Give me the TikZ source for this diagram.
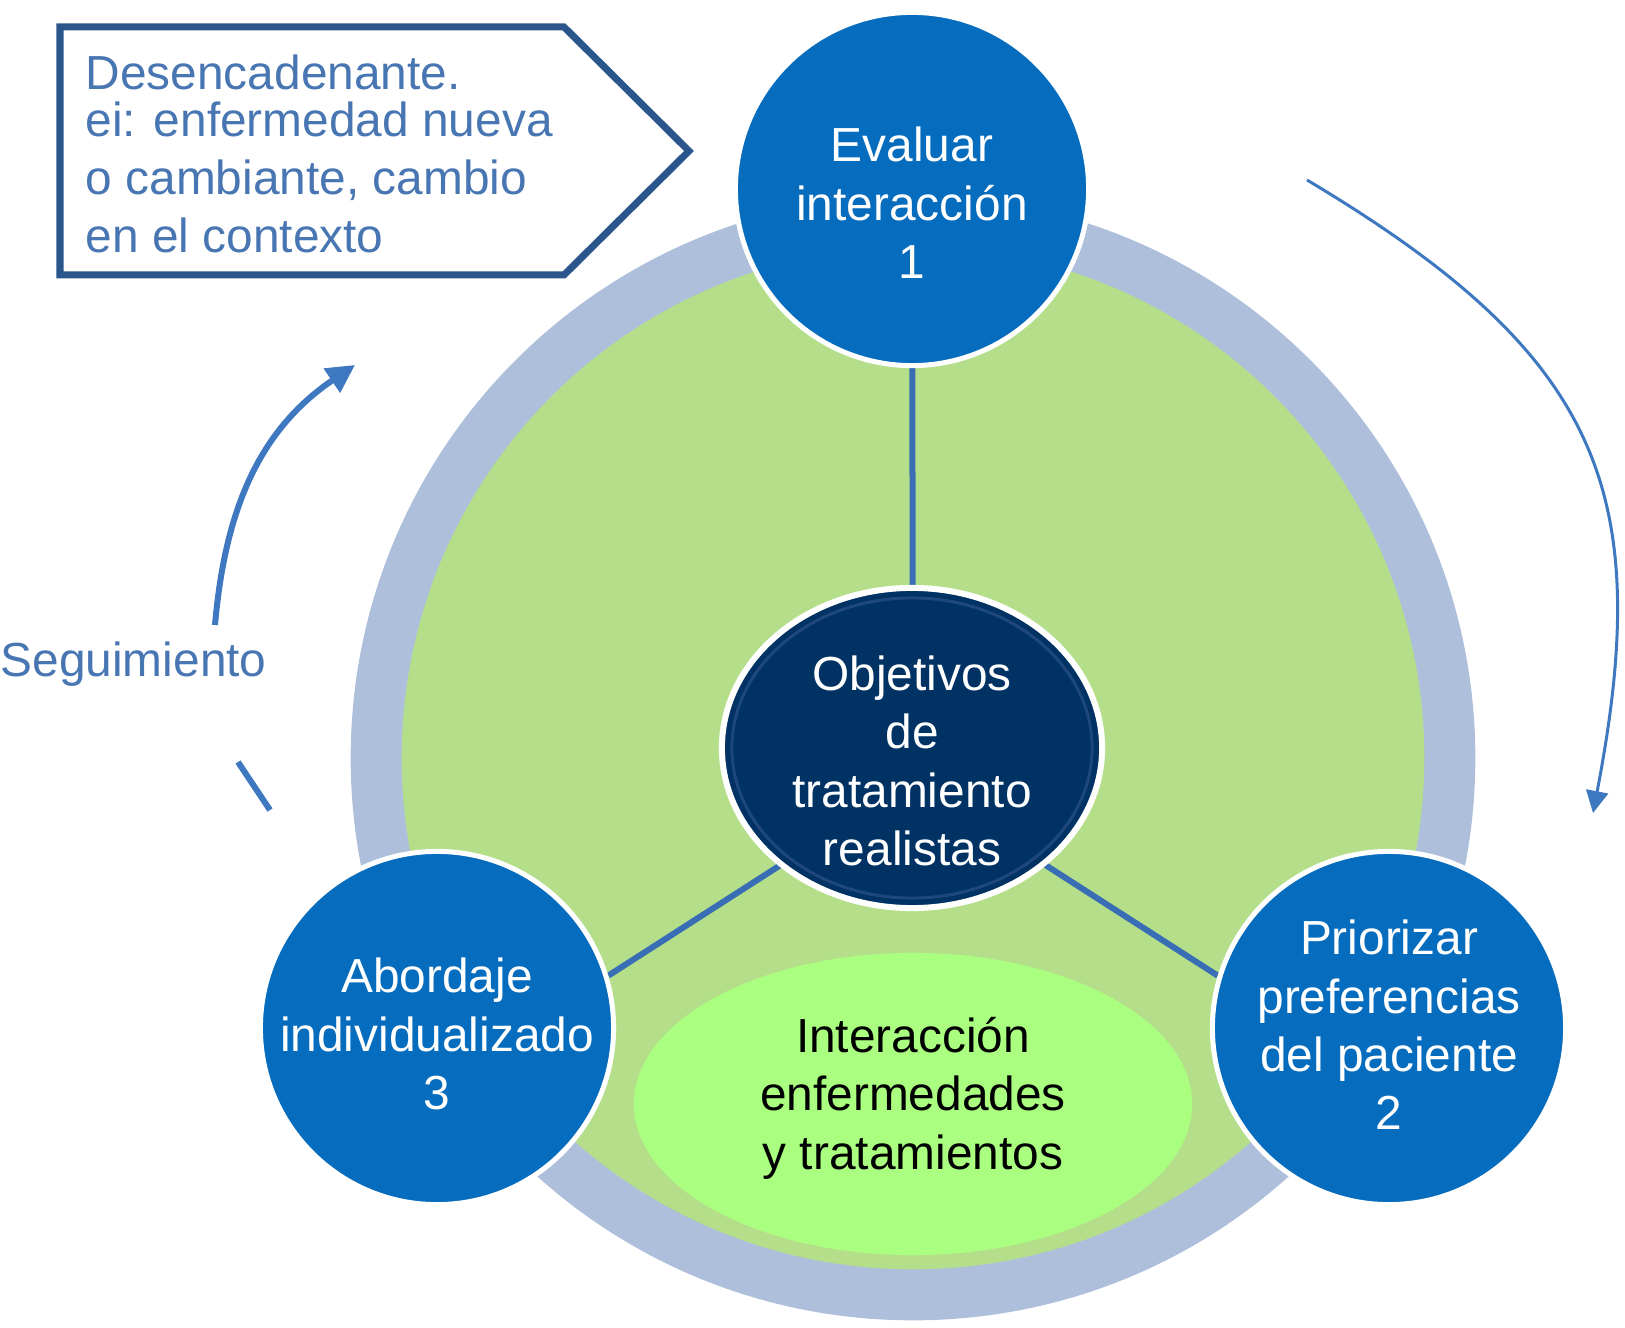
\documentclass[tikz,border=0pt]{standalone}
\usepackage{fontspec}
\setmainfont{Liberation Sans}
\usetikzlibrary{arrows.meta, shapes.geometric}

\definecolor{ringblue}{RGB}{174,191,220}
\definecolor{discgreen}{RGB}{181,222,138}
\definecolor{lightgreen}{RGB}{170,255,128}
\definecolor{stepblue}{RGB}{6,108,190}
\definecolor{navy}{RGB}{1,50,100}
\definecolor{navyrim}{RGB}{30,72,124}
\definecolor{spokeblue}{RGB}{58,110,180}
\definecolor{textblue}{RGB}{72,118,178}
\definecolor{boxblue}{RGB}{42,86,140}
\definecolor{arrowblue}{RGB}{62,120,192}

\pgfdeclarelayer{back}
\pgfdeclarelayer{mid}
\pgfsetlayers{back,mid,main}

\begin{document}
\begin{tikzpicture}[x=0.01cm, y=-0.01cm]
  \tikzset{
    stepc/.style={circle, fill=stepblue, draw=white, line width=0.05cm, minimum size=3.53cm, inner sep=0pt},
    goal/.style={ellipse, fill=navy, draw=white, line width=0.06cm, minimum width=3.8cm, minimum height=3.2cm, inner sep=0pt},
    core/.style={ellipse, fill=lightgreen, minimum width=5.58cm, minimum height=3.02cm, inner sep=0pt},
    wtxt/.style={text=white, align=center, inner sep=0pt, font=\fontsize{13.6}{16.6}\selectfont},
    ktxt/.style={text=black, align=center, inner sep=0pt, font=\fontsize{13.6}{16.6}\selectfont},
    btxt/.style={text=textblue, align=left, inner sep=0pt, font=\fontsize{13.6}{16.6}\selectfont},
    spoke/.style={spokeblue, line width=0.06cm},
    cycarrow/.style={arrowblue, line width=0.06cm},
  }
  \useasboundingbox (0,0) rectangle (1625,1328);

  \coordinate (ringc) at (913,758);
  \coordinate (hub) at (913,780);

  % ring and green disc
  \begin{pgfonlayer}{back}
    \fill[ringblue] (ringc) circle (5.62cm);
    \fill[discgreen] (ringc) circle (5.11cm);
  \end{pgfonlayer}

  % inner ellipses
  \node[core] (inter) at (913,1104) {};
  \node[ktxt] (intertext) at (913,1098) {Interacción\\enfermedades\\y tratamientos};

  \node[goal] (obj) at (912,748) {};
  \draw[navyrim, line width=0.03cm] (obj.center) ellipse (1.80cm and 1.50cm);
  \node[wtxt] (objtext) at (912,761) {Objetivos\\de\\tratamiento\\realistas};

  % the three steps
  \node[stepc] (eval) at (912,189) {};
  \node[wtxt] (evaltext) at (912,203) {Evaluar\\interacción\\1};

  \node[stepc] (prior) at (1389,1028) {};
  \node[wtxt] (priortext) at (1389,1025) {Priorizar\\preferencias\\del paciente\\2};

  \node[stepc] (abord) at (437,1028) {};
  \node[wtxt] (abordtext) at (437,1034) {Abordaje\\individualizado\\3};

  % spokes
  \begin{pgfonlayer}{mid}
    \draw[spoke] (hub) -- (eval);
    \draw[spoke] (hub) -- (abord.17);
    \draw[spoke] (hub) -- (prior.163);
  \end{pgfonlayer}

  % trigger callout
  \draw[boxblue, line width=0.07cm, line join=miter]
    (60,27) -- (564,27) -- (689,151) -- (564,275) -- (60,275) -- cycle;
  \node[btxt, anchor=north west] (trigger) at (85,54)
    {Desencadenante.\\[-3.3pt]ei: enfermedad nueva\\o cambiante, cambio\\en el contexto};

  % cycle arrows
  \coordinate (cwstart) at (1307,180);
  \coordinate (cwend) at (1593,813);
  \draw[arrowblue, line width=0.03cm, -{Triangle[length=0.22cm, width=0.22cm]}]
    (cwstart) .. controls (1600,355) and (1655,490) .. (cwend);

  \coordinate (fwstart) at (215,625);
  \coordinate (fwend) at (355,365);
  \draw[cycarrow, -{Triangle[length=0.28cm, width=0.28cm]}]
    (fwstart) .. controls (225,510) and (259,430) .. (fwend);

  \coordinate (dasha) at (238,762);
  \coordinate (dashb) at (270,810);
  \draw[cycarrow] (dasha) -- (dashb);

  \node[btxt, anchor=base west] (follow) at (0,676) {Seguimiento};
\end{tikzpicture}
\end{document}
